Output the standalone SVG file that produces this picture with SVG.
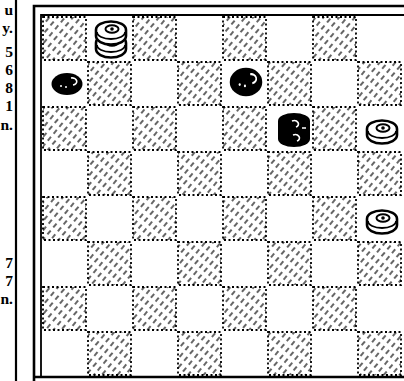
<svg xmlns="http://www.w3.org/2000/svg" width="404" height="381" viewBox="0 0 404 381">
<style>
.t{font-family:"Liberation Serif","Times New Roman",serif;font-weight:bold;font-size:15.5px;fill:#000;text-anchor:end}
.dk{fill:url(#hatch);stroke:#000;stroke-width:1.8;stroke-dasharray:2 2.5}
.rule{stroke:#000;fill:none}
</style>
<defs>
<pattern id="hatch" patternUnits="userSpaceOnUse" width="6" height="9" patternTransform="rotate(40)">
<line x1="1" y1="0" x2="1" y2="9" stroke="#000" stroke-width="1.2" stroke-dasharray="5 4"/>
</pattern>
<g id="wm">
<path d="M-15,-2 A15,8.5 0 0 1 15,-2 V4 A15,8.5 0 0 1 -15,4 Z" fill="#fff" stroke="#000" stroke-width="2.6"/>
<path d="M-14,0 A14,7 0 0 0 14,0" fill="none" stroke="#000" stroke-width="1.8"/>
<ellipse cx="1" cy="-3" rx="6.5" ry="3.8" fill="none" stroke="#000" stroke-width="2"/>
<circle cx="1" cy="-3" r="1.8" fill="#000"/>
</g>
<g id="bm">
<ellipse cx="0" cy="0" rx="15.5" ry="11" fill="#000"/>
<path d="M4,-6 A4,3 0 1 1 6,1" fill="none" stroke="#fff" stroke-width="1.6"/>
<circle cx="-6" cy="2" r="1" fill="#fff"/>
<circle cx="-1" cy="3" r="1" fill="#fff"/>
</g>
</defs>
<rect width="404" height="381" fill="#fff"/>
<g id="text-column">
<text class="t" x="13" y="15">u</text>
<text class="t" x="13" y="33">y.</text>
<text class="t" x="13" y="57">5</text>
<text class="t" x="13" y="75">6</text>
<text class="t" x="13" y="93">8</text>
<text class="t" x="13" y="111">1</text>
<text class="t" x="13" y="130">n.</text>
<text class="t" x="13" y="268">7</text>
<text class="t" x="13" y="286">7</text>
<text class="t" x="13" y="304">n.</text>
</g>
<g id="frame">
<line class="rule" x1="16" y1="0" x2="16" y2="381" stroke-width="2.2"/>
<path class="rule" d="M34,381 V6 H404" stroke-width="2.6"/>
<path class="rule" d="M41,377 V15 H404" stroke-width="1.8"/>
<line class="rule" x1="34" y1="377" x2="404" y2="377" stroke-width="2.6"/>
</g>
<g id="board">
<rect class="dk" x="43" y="17" width="43" height="43"/>
<rect class="dk" x="133" y="17" width="43" height="43"/>
<rect class="dk" x="223" y="17" width="43" height="43"/>
<rect class="dk" x="313" y="17" width="43" height="43"/>
<rect class="dk" x="88" y="62" width="43" height="43"/>
<rect class="dk" x="178" y="62" width="43" height="43"/>
<rect class="dk" x="268" y="62" width="43" height="43"/>
<rect class="dk" x="358" y="62" width="43" height="43"/>
<rect class="dk" x="43" y="107" width="43" height="43"/>
<rect class="dk" x="133" y="107" width="43" height="43"/>
<rect class="dk" x="223" y="107" width="43" height="43"/>
<rect class="dk" x="313" y="107" width="43" height="43"/>
<rect class="dk" x="88" y="152" width="43" height="43"/>
<rect class="dk" x="178" y="152" width="43" height="43"/>
<rect class="dk" x="268" y="152" width="43" height="43"/>
<rect class="dk" x="358" y="152" width="43" height="43"/>
<rect class="dk" x="43" y="197" width="43" height="43"/>
<rect class="dk" x="133" y="197" width="43" height="43"/>
<rect class="dk" x="223" y="197" width="43" height="43"/>
<rect class="dk" x="313" y="197" width="43" height="43"/>
<rect class="dk" x="88" y="242" width="43" height="43"/>
<rect class="dk" x="178" y="242" width="43" height="43"/>
<rect class="dk" x="268" y="242" width="43" height="43"/>
<rect class="dk" x="358" y="242" width="43" height="43"/>
<rect class="dk" x="43" y="287" width="43" height="43"/>
<rect class="dk" x="133" y="287" width="43" height="43"/>
<rect class="dk" x="223" y="287" width="43" height="43"/>
<rect class="dk" x="313" y="287" width="43" height="43"/>
<rect class="dk" x="88" y="332" width="43" height="43"/>
<rect class="dk" x="178" y="332" width="43" height="43"/>
<rect class="dk" x="268" y="332" width="43" height="43"/>
<rect class="dk" x="358" y="332" width="43" height="43"/>
</g>
<g id="pieces">
<g id="white-king-b7">
<use href="#wm" transform="translate(111,45)"/>
<use href="#wm" transform="translate(111,32)"/>
</g>
<g id="black-a6"><use href="#bm" transform="translate(67,84)"/></g>
<g id="black-e6"><use href="#bm" transform="translate(246,82) scale(1.05,1.3)"/></g>
<g id="black-king-f5">
<path d="M-16,-9 A16,8 0 0 1 16,-9 V9 A16,8 0 0 1 -16,9 Z" transform="translate(294,130)" fill="#000"/>
<path d="M-2,-9 A4,3 0 1 1 2,-3 M-1,5 A4,3 0 1 1 3,11 M8,-2 h4" transform="translate(294,130)" fill="none" stroke="#fff" stroke-width="1.6"/>
</g>
<g id="white-h5"><use href="#wm" transform="translate(382,131)"/></g>
<g id="white-h3"><use href="#wm" transform="translate(382,221)"/></g>
</g>
</svg>
